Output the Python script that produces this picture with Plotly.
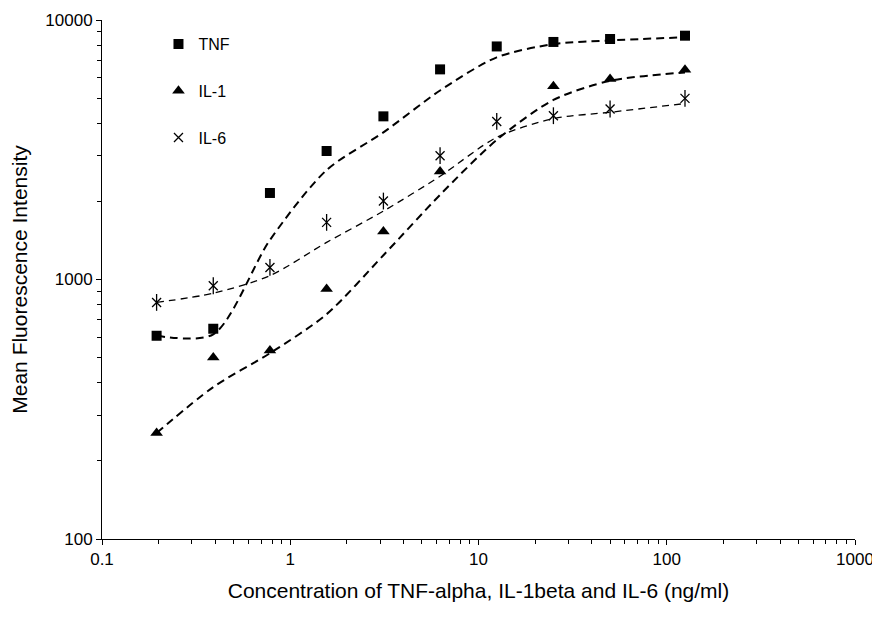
import plotly.graph_objects as go

# Concentrations (ng/ml)
conc = [0.195, 0.39, 0.78, 1.56, 3.125, 6.25, 12.5, 25, 50, 125]

# Measured mean fluorescence intensity
tnf = [607, 646, 2155, 3127, 4253, 6452, 7909, 8230, 8450, 8700]
il1 = [256, 501, 533, 919, 1532, 2610, None, 5550, 5925, 6437]
il6 = [816, 946, 1113, 1660, 2006, 3000, 4066, 4277, 4540, 4988]

# Trend (dashed smoothed) curves
tnf_trend = [607, 615, 1420, 2640, 3690, 5350, 7180, 8070, 8340, 8580]
il1_trend = [256, 385, 520, 735, 1240, 2120, 3450, 4920, 5830, 6280]
il6_trend = [816, 885, 1035, 1390, 1835, 2500, 3530, 4170, 4410, 4765]

x_tickvals = [0.1, 1, 10, 100, 1000]
x_ticktext = ["0.1", "1", "10", "100", "1000"]
y_tickvals = [100, 1000, 10000]
y_ticktext = ["100", "1000", "10000"]

FONT = "Liberation Sans, Arial, sans-serif"

fig = go.Figure()

# Trend lines
fig.add_trace(go.Scatter(x=conc, y=tnf_trend, mode="lines", showlegend=False,
                         line=dict(color="black", width=2, dash="8px,5px", shape="spline", smoothing=0.8),
                         hoverinfo="skip"))
fig.add_trace(go.Scatter(x=conc, y=il1_trend, mode="lines", showlegend=False,
                         line=dict(color="black", width=2, dash="8px,5px", shape="spline", smoothing=0.8),
                         hoverinfo="skip"))
fig.add_trace(go.Scatter(x=conc, y=il6_trend, mode="lines", showlegend=False,
                         line=dict(color="black", width=1.3, dash="7px,5px", shape="spline", smoothing=0.8),
                         hoverinfo="skip"))

# Data markers
fig.add_trace(go.Scatter(x=conc, y=tnf, mode="markers", name="TNF", legendgroup="g1",
                         marker=dict(symbol="square", size=10, color="black")))
fig.add_trace(go.Scatter(x=conc, y=il1, mode="markers", name="IL-1", legendgroup="g2",
                         marker=dict(symbol="triangle-up", size=11, color="black")))
fig.add_trace(go.Scatter(x=conc, y=il6, mode="markers", name="IL-6", legendgroup="g3",
                         marker=dict(symbol="x-thin-open", size=9, color="black",
                                     line=dict(color="black", width=1.3))))
fig.add_trace(go.Scatter(x=conc, y=il6, mode="markers", name="IL-6", legendgroup="g3", showlegend=False,
                         marker=dict(symbol="line-ns-open", size=12, color="black",
                                     line=dict(color="black", width=1.3))))

axis_common = dict(
    type="log", showgrid=False, zeroline=False, showline=True, linecolor="black", linewidth=1,
    ticks="outside", ticklen=5, tickcolor="black", tickwidth=1, automargin=False,
    ticklabeloverflow="allow",
    tickfont=dict(family=FONT, size=17, color="black"),
    minor=dict(ticks="outside", ticklen=4, tickcolor="black", dtick="D1", showgrid=False),
)

# The page adds an 8px body margin, so the figure is sized/offset to compensate.
fig.update_layout(
    width=872, height=607,
    margin=dict(l=94, r=25, t=12, b=76),
    paper_bgcolor="white", plot_bgcolor="white",
    font=dict(family=FONT, color="black"),
    showlegend=True,
    legend=dict(x=0.075, y=0.9865, xanchor="left", yanchor="top",
                font=dict(family=FONT, size=16, color="black"),
                bgcolor="rgba(0,0,0,0)", tracegroupgap=23, itemwidth=30),
    xaxis=dict(axis_common, range=[-1, 3], tickvals=x_tickvals, ticktext=x_ticktext,
               title=dict(text="Concentration of TNF-alpha, IL-1beta and IL-6 (ng/ml)",
                          font=dict(family=FONT, size=21, color="black"), standoff=14)),
    yaxis=dict(axis_common, range=[2, 4], tickvals=y_tickvals, ticktext=y_ticktext,
               title=dict(text="Mean Fluorescence Intensity",
                          font=dict(family=FONT, size=21, color="black"), standoff=12)),
)

fig.write_html("out.html")
